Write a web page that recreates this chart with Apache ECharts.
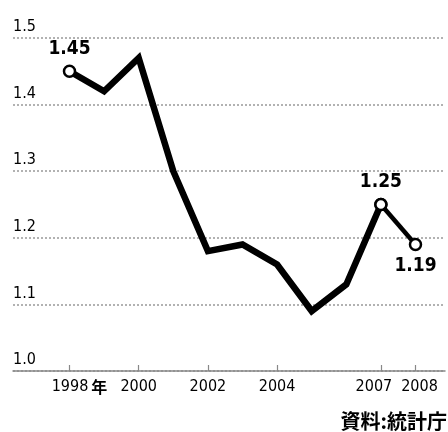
<!DOCTYPE html>
<html>
<head>
<meta charset="utf-8">
<script src="https://cdn.jsdelivr.net/npm/echarts@6/dist/echarts.min.js"></script>
<style>
  html, body { margin: 0; padding: 0; background: #fff; }
  #chart { width: 448px; height: 432px; }
</style>
</head>
<body>
<div id="chart"></div>
<script>
// Annual values, 1998–2008
const years = [1998, 1999, 2000, 2001, 2002, 2003, 2004, 2005, 2006, 2007, 2008];
const values = [1.45, 1.42, 1.47, 1.30, 1.18, 1.19, 1.16, 1.09, 1.13, 1.25, 1.19];
// Years that carry a tick and label on the horizontal axis
const tickYears = [1998, 2000, 2002, 2004, 2007, 2008];
// Points drawn with an open circle and their value written next to them
const markedYears = [1998, 2007, 2008];
const yTicks = [1.0, 1.1, 1.2, 1.3, 1.4, 1.5];
const sourceNote = '資料:統計庁';

const NARROW = '"DejaVu Sans Condensed", "DejaVu Sans", sans-serif';
const CJK = '"Noto Sans CJK JP", "Noto Sans CJK SC", sans-serif';

const X_MIN = 1996.367, X_MAX = 2008.853;
const lastYear = tickYears[tickYears.length - 1];
const firstYear = tickYears[0];

function point(i) {
  const marked = markedYears.includes(years[i]);
  const item = { value: [years[i], values[i]], symbol: marked ? 'circle' : 'none' };
  if (marked) {
    const below = i === years.length - 1;
    item.label = {
      show: true,
      position: below ? 'bottom' : 'top',
      distance: below ? 5 : 6,
      formatter: values[i].toFixed(2)
    };
  }
  return item;
}

const mainData = years.slice(0, -1).map((y, i) => point(i));
const tailData = years.slice(-2).map((y, k) => point(years.length - 2 + k));

const chart = echarts.init(document.getElementById('chart'), null, { renderer: 'canvas' });

const labelStyle = {
  color: '#000',
  fontFamily: NARROW,
  fontWeight: 'bold',
  fontSize: 19,
  lineHeight: 19,
  backgroundColor: '#fff',
  padding: [0, 2, 0, 2]
};

const yearLabel = {
  margin: 8,
  color: '#000',
  fontFamily: NARROW,
  fontSize: 16,
  hideOverlap: false
};

// Year label text: the first carries the 年 suffix, the two closely spaced
// last years are nudged apart with empty spacer boxes.
function yearText(v) {
  if (v === firstYear) return '{pad|}' + v + '{u|年}';
  if (v === lastYear) return '{sl|}' + v;
  if (v === lastYear - 1) return v + '{sr|}';
  return String(v);
}
const yearRich = {
  pad: { width: 20 },
  sl: { width: 8 },
  sr: { width: 14 },
  u: { fontFamily: CJK, fontWeight: 'bold', fontSize: 16, color: '#000', padding: [0, 0, 0, 3] }
};

chart.setOption({
  backgroundColor: '#fff',
  animation: false,
  grid: { left: 13, right: 3, top: 38, bottom: 61 },
  xAxis: [
    {
      type: 'value',
      min: X_MIN,
      max: X_MAX,
      axisLine: { show: true, lineStyle: { color: '#888', width: 1.5 } },
      axisTick: {
        show: true, inside: true, length: 6,
        customValues: tickYears,
        lineStyle: { color: '#888', width: 1.2 }
      },
      axisLabel: Object.assign({}, yearLabel, {
        customValues: tickYears.slice(0, -1),
        formatter: yearText,
        rich: yearRich
      }),
      splitLine: { show: false }
    },
    {
      // carries only the final year label so it is not culled next to its neighbour
      type: 'value',
      position: 'bottom',
      min: X_MIN,
      max: X_MAX,
      axisLine: { show: false },
      axisTick: { show: false },
      axisLabel: Object.assign({}, yearLabel, {
        customValues: [lastYear],
        formatter: yearText,
        rich: yearRich
      }),
      splitLine: { show: false }
    }
  ],
  yAxis: {
    type: 'value',
    min: yTicks[0],
    max: yTicks[yTicks.length - 1],
    interval: 0.1,
    axisLine: { show: false },
    axisTick: { show: false },
    axisLabel: {
      inside: true,
      margin: 0,
      verticalAlign: 'bottom',
      padding: [0, 0, 3, 0],
      color: '#000',
      fontFamily: NARROW,
      fontSize: 16,
      formatter: v => v.toFixed(1)
    },
    splitLine: {
      show: true,
      lineStyle: { color: '#999', width: 1.5, type: [2, 2] }
    }
  },
  series: [
    {
      type: 'line',
      data: mainData,
      symbolSize: 11,
      lineStyle: { color: '#000', width: 6.5, join: 'miter' },
      itemStyle: { color: '#fff', borderColor: '#000', borderWidth: 2.5 },
      label: labelStyle,
      z: 3
    },
    {
      type: 'line',
      data: tailData,
      symbolSize: 11,
      lineStyle: { color: '#000', width: 4.5 },
      itemStyle: { color: '#fff', borderColor: '#000', borderWidth: 2.5 },
      label: labelStyle,
      z: 4
    }
  ],
  graphic: [{
    type: 'text',
    right: 1,
    top: 411,
    style: {
      text: sourceNote,
      fill: '#000',
      fontFamily: CJK,
      fontWeight: 'bold',
      fontSize: 20
    }
  }]
});
</script>
</body>
</html>
